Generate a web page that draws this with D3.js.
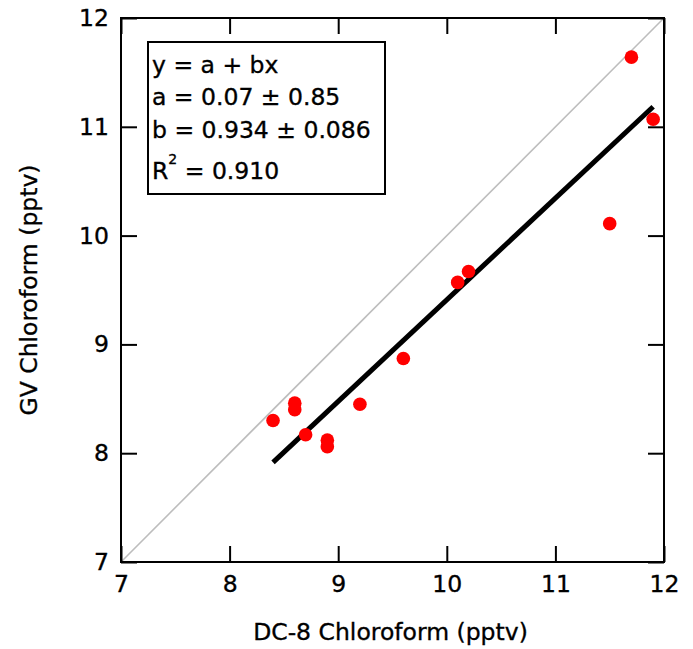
<!DOCTYPE html>
<html><head><meta charset="utf-8">
<script src="https://cdn.jsdelivr.net/npm/d3@7/dist/d3.min.js"></script>
<style>body{margin:0;background:#fff}svg{display:block}text{font-family:"DejaVu Sans",Verdana,sans-serif;stroke:#000;stroke-width:0.35px}</style>
</head><body><svg id="c" width="693" height="649"></svg>
<script>
const dc8 = [11.7, 11.9, 11.5, 8.4, 8.6, 8.6, 8.7, 8.9, 8.9, 9.2, 9.6, 10.1, 10.2];
const gv  = [11.64, 11.07, 10.11, 8.30, 8.46, 8.40, 8.17, 8.12, 8.06, 8.45, 8.87, 9.57, 9.67];
const fitA = 0.07, fitB = 0.934;
const fitRange = [8.4, 11.9];
const xTicks = [7, 8, 9, 10, 11, 12];
const yTicks = [7, 8, 9, 10, 11, 12];
const legendLines = ["y = a + bx", "a = 0.07 ± 0.85", "b = 0.934 ± 0.086"];

const L = 121, R = 664, T = 18, B = 562;
const svg = d3.select("#c");
const x = d3.scaleLinear().domain([7, 12]).range([L, R]);
const y = d3.scaleLinear().domain([7, 12]).range([B, T]);
const tl = 16;

// 1:1 line
svg.append("line").attr("x1", x(7)).attr("y1", y(7)).attr("x2", x(12)).attr("y2", y(12))
  .attr("stroke", "#bdbdbd").attr("stroke-width", 1.6);

// axes
const style = g => { g.select(".domain").remove(); g.selectAll("line").attr("stroke", "#000").attr("stroke-width", 2); };
svg.append("g").attr("transform", `translate(0,${B})`)
  .call(d3.axisBottom(x).tickValues(xTicks).tickSize(-tl).tickPadding(9).tickFormat(d3.format("d")))
  .call(style).call(g => g.selectAll("text").attr("font-size", 23.5).attr("fill", "#000").attr("dy", "0.88em"));
svg.append("g").attr("transform", `translate(0,${T})`)
  .call(d3.axisTop(x).tickValues(xTicks).tickSize(-tl).tickFormat(""))
  .call(style);
svg.append("g").attr("transform", `translate(${L},0)`)
  .call(d3.axisLeft(y).tickValues(yTicks).tickSize(-tl).tickPadding(12).tickFormat(d3.format("d")))
  .call(style).call(g => g.selectAll("text").attr("font-size", 23.5).attr("fill", "#000"));
svg.append("g").attr("transform", `translate(${R},0)`)
  .call(d3.axisRight(y).tickValues(yTicks).tickSize(-tl).tickFormat(""))
  .call(style);
svg.append("rect").attr("x", L).attr("y", T).attr("width", R - L).attr("height", B - T)
  .attr("fill", "none").attr("stroke", "#000").attr("stroke-width", 2);

// fit line
svg.append("line").attr("x1", x(fitRange[0])).attr("y1", y(fitA + fitB * fitRange[0]))
  .attr("x2", x(fitRange[1])).attr("y2", y(fitA + fitB * fitRange[1]))
  .attr("stroke", "#000").attr("stroke-width", 5);

// points
svg.append("g").selectAll("circle").data(dc8).join("circle")
  .attr("cx", d => x(d)).attr("cy", (d, i) => y(gv[i])).attr("r", 6.8).attr("fill", "#ff0000");

// legend box
svg.append("rect").attr("x", 148).attr("y", 42).attr("width", 237).attr("height", 152)
  .attr("fill", "#fff").attr("stroke", "#000").attr("stroke-width", 2);
const lg = svg.append("g").attr("font-size", 23.5).attr("fill", "#000");
const ys = [73, 105, 138];
legendLines.forEach((t, i) => lg.append("text").attr("x", 152).attr("y", ys[i]).text(t));
const r2 = lg.append("text").attr("x", 152).attr("y", 179);
r2.append("tspan").text("R");
r2.append("tspan").attr("font-size", 14).attr("dy", -15).text("2");
r2.append("tspan").attr("dy", 15).text(" = 0.910");

// axis titles
svg.append("text").attr("x", (L + R) / 2 - 2).attr("y", 640).attr("text-anchor", "middle")
  .attr("font-size", 23.5).text("DC-8 Chloroform (pptv)");
svg.append("text").attr("transform", `translate(37,${(T + B) / 2}) rotate(-90)`).attr("text-anchor", "middle")
  .attr("font-size", 23.5).text("GV Chloroform (pptv)");
</script></body></html>
